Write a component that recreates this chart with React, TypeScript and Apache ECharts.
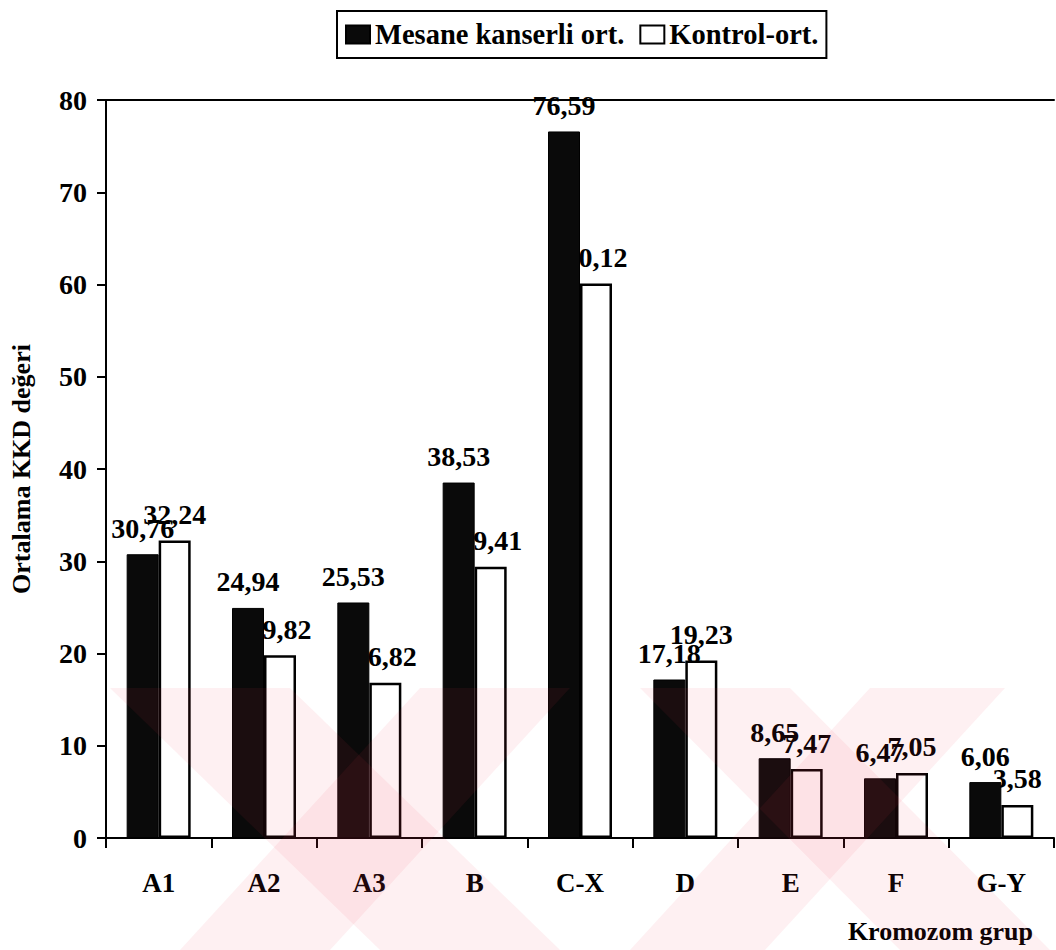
import React, { useEffect, useRef } from "react";
import * as echarts from "echarts";

const categories = ["A1", "A2", "A3", "B", "C-X", "D", "E", "F", "G-Y"];
const mesaneValues = [30.76, 24.94, 25.53, 38.53, 76.59, 17.18, 8.65, 6.47, 6.06];
const kontrolValues = [32.24, 19.82, 16.82, 29.41, 60.12, 19.23, 7.47, 7.05, 3.58];
const seriesNames = ["Mesane kanserli ort.", "Kontrol-ort."];
const yAxisTitle = "Ortalama KKD değeri";
const xAxisTitle = "Kromozom grup";

const FONT = "'Liberation Serif', 'Times New Roman', serif";
const fmt = (v: number) => v.toFixed(2).replace(".", ",");

// faint background watermark bands (decorative)
const wmFill = "rgba(235,60,80,0.075)";
const wmBands = [
  [[110, 688], [290, 688], [560, 950], [380, 950]],
  [[420, 688], [570, 688], [330, 950], [180, 950]],
  [[640, 688], [790, 688], [1050, 950], [900, 950]],
  [[870, 688], [1005, 688], [765, 950], [630, 950]],
];

export default function App() {
  const ref = useRef<HTMLDivElement>(null);
  useEffect(() => {
    if (!ref.current) return;
    const chart = echarts.init(ref.current, null, { renderer: "svg" });
    const labelStyle = {
      show: true,
      position: "top" as const,
      distance: 12,
      fontFamily: FONT,
      fontWeight: "bold" as const,
      fontSize: 28,
      color: "#000",
      formatter: (p: any) => fmt(p.value),
    };
    chart.setOption({
      animation: false,
      backgroundColor: "#fff",
      textStyle: { fontFamily: FONT },
      legend: {
        left: 337,
        top: 11,
        padding: [9, 8],
        borderColor: "#000",
        borderWidth: 2,
        icon: "rect",
        itemWidth: 24,
        itemHeight: 18,
        itemGap: 15,
        textStyle: { fontFamily: FONT, fontWeight: "bold", fontSize: 28.5, color: "#000" },
        data: seriesNames,
      },
      grid: { left: 100, right: 2, top: 100, bottom: 112 },
      xAxis: [
        {
          type: "category",
          data: categories,
          axisLine: { lineStyle: { color: "#000", width: 2 } },
          axisTick: { show: true, length: 10, lineStyle: { color: "#000", width: 2 } },
          axisLabel: {
            margin: 31,
            fontFamily: FONT,
            fontWeight: "bold",
            fontSize: 27,
            color: "#000",
          },
        },
        {
          type: "category",
          data: categories,
          position: "top",
          axisLine: { show: true, lineStyle: { color: "#000", width: 2 } },
          axisTick: { show: false },
          axisLabel: { show: false },
        },
      ],
      yAxis: {
        type: "value",
        min: 0,
        max: 80,
        interval: 10,
        name: yAxisTitle,
        nameLocation: "middle",
        nameGap: 72,
        nameTextStyle: { fontFamily: FONT, fontWeight: "bold", fontSize: 26, color: "#000" },
        axisLine: { show: true, lineStyle: { color: "#000", width: 2 } },
        axisTick: { show: true, length: 9, lineStyle: { color: "#000", width: 2 } },
        splitLine: { show: false },
        axisLabel: {
          margin: 19,
          fontFamily: FONT,
          fontWeight: "bold",
          fontSize: 28,
          color: "#000",
        },
      },
      series: [
        {
          name: seriesNames[0],
          type: "bar",
          data: mesaneValues,
          barWidth: 32,
          barGap: "0%",
          z: 3,
          itemStyle: { color: "#0a0a0a", borderColor: "#000", borderWidth: 1 },
          label: labelStyle,
        },
        {
          name: seriesNames[1],
          type: "bar",
          data: kontrolValues,
          barWidth: 32,
          barGap: "0%",
          z: 2,
          itemStyle: { color: "#fff", borderColor: "#000", borderWidth: 2.5 },
          label: labelStyle,
        },
      ],
      graphic: [
        {
          type: "text",
          right: 23,
          top: 918,
          silent: true,
          style: {
            text: xAxisTitle,
            fontFamily: FONT,
            fontWeight: "bold",
            fontSize: 26,
            fill: "#000",
          },
        },
        ...wmBands.map((pts) => ({
          type: "polygon",
          silent: true,
          z: 100,
          shape: { points: pts },
          style: { fill: wmFill },
        })),
      ],
    });
    return () => chart.dispose();
  }, []);
  return (
    <div
      ref={ref}
      style={{ position: "fixed", left: 0, top: 0, width: 1056, height: 950 }}
    />
  );
}
